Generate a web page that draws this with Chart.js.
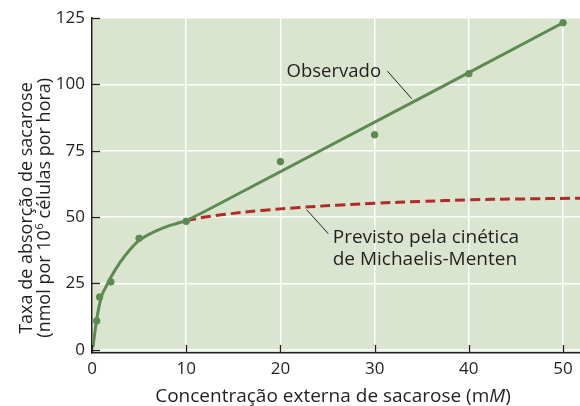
<!DOCTYPE html>
<html>
<head>
<meta charset="utf-8">
<script src="https://cdn.jsdelivr.net/npm/chart.js@4/dist/chart.umd.min.js"></script>
<style>
  body { margin: 0; background: #fff; }
  #wrap { width: 580px; height: 406px; }
</style>
</head>
<body>
<div id="wrap"><canvas id="chart"></canvas></div>
<script>
// measured points (sacarose uptake)
const obsX = [0.5, 0.8, 2, 5, 10, 20, 30, 40, 50];
const obsY = [10.9, 19.9, 25.6, 42, 48.4, 70.9, 81, 104, 123.2];

const curveX = [0.1, 0.5, 1, 1.5, 2, 3, 4, 5, 6, 7, 8, 9, 10, 11, 12, 50];
const curveY = [1, 11.5, 20, 23.8, 27.3, 33, 37.6, 41.2, 43.4, 45.1, 46.5, 47.6, 48.7, 50.4, 52.2, 123.2];

// Michaelis-Menten prediction
const mmX = [10, 12, 14, 18, 22, 26, 30, 35, 40, 45, 51.8];
const mmY = [48.6, 50, 51, 52.5, 53.6, 54.5, 55.2, 55.9, 56.5, 56.8, 57.1];

const xTicks = [0, 10, 20, 30, 40, 50];
const yTicks = [0, 25, 50, 75, 100, 125];

const green = "#5c8b52";
const red = "#b3282a";
const ink = "#231f20";
const fontFam = "'Open Sans', 'Noto Sans', sans-serif";

function pts(xs, ys) {
  return xs.map((x, i) => ({ x: x, y: ys[i] }));
}

const bgPlugin = {
  id: "plotBg",
  beforeDraw: (chart) => {
    const { ctx, chartArea } = chart;
    ctx.save();
    ctx.fillStyle = "#dae5cf";
    ctx.fillRect(chartArea.left, chartArea.top, chartArea.right - chartArea.left, chartArea.bottom - chartArea.top);
    ctx.restore();
  },
};

// inward tick marks
const tickPlugin = {
  id: "innerTicks",
  afterDraw: (chart) => {
    const { ctx, chartArea } = chart;
    ctx.save();
    ctx.strokeStyle = ink;
    ctx.lineWidth = 1.3;
    chart.scales.x.ticks.forEach((t) => {
      const x = Math.round(chart.scales.x.getPixelForValue(t.value)) + 0.5;
      ctx.beginPath();
      ctx.moveTo(x, chartArea.bottom);
      ctx.lineTo(x, chartArea.bottom - 8);
      ctx.stroke();
    });
    chart.scales.y.ticks.forEach((t) => {
      const y = Math.round(chart.scales.y.getPixelForValue(t.value)) + 0.5;
      ctx.beginPath();
      ctx.moveTo(chartArea.left, y);
      ctx.lineTo(chartArea.left + 8, y);
      ctx.stroke();
    });
    ctx.restore();
  },
};

const labelPlugin = {
  id: "labels",
  afterDraw: (chart) => {
    const { ctx } = chart;
    const xs = chart.scales.x;
    const ys = chart.scales.y;
    const px = (v) => xs.getPixelForValue(v);
    const py = (v) => ys.getPixelForValue(v);
    ctx.save();
    ctx.fillStyle = ink;
    ctx.strokeStyle = ink;
    ctx.lineWidth = 1;
    ctx.textBaseline = "alphabetic";

    // Observado
    ctx.font = "18.5px " + fontFam;
    ctx.textAlign = "right";
    ctx.fillText("Observado", px(30.68), py(102.9));
    ctx.beginPath();
    ctx.moveTo(px(31.35), py(105));
    ctx.lineTo(px(33.94), py(94.6));
    ctx.stroke();

    // Previsto
    ctx.font = "19px " + fontFam;
    ctx.textAlign = "left";
    ctx.fillText("Previsto pela cinética", px(25.55), py(40.2));
    ctx.fillText("de Michaelis-Menten", px(25.55), py(31.9));
    ctx.beginPath();
    ctx.moveTo(px(22.79), py(52.75));
    ctx.lineTo(px(25.08), py(43.75));
    ctx.stroke();

    // x axis title with italic M
    const a = "Concentração externa de sacarose (m";
    const b = "M";
    const c = ")";
    const fs = "19px ";
    ctx.font = fs + fontFam;
    const wa = ctx.measureText(a).width;
    const wc = ctx.measureText(c).width;
    ctx.font = "italic " + fs + fontFam;
    const wb = ctx.measureText(b).width;
    const x0 = 333 - (wa + wb + wc) / 2;
    const yT = 402;
    ctx.font = fs + fontFam;
    ctx.fillText(a, x0, yT);
    ctx.font = "italic " + fs + fontFam;
    ctx.fillText(b, x0 + wa, yT);
    ctx.font = fs + fontFam;
    ctx.fillText(c, x0 + wa + wb, yT);

    // y axis title, two lines, superscript 6
    ctx.translate(0, 208);
    ctx.rotate(-Math.PI / 2);
    ctx.textAlign = "left";
    const l1 = "Taxa de absorção de sacarose";
    const l2a = "(nmol por 10";
    const l2b = "6";
    const l2c = " células por hora)";
    const big = "18px " + fontFam;
    const small = "11.5px " + fontFam;
    ctx.font = big;
    const w1 = ctx.measureText(l1).width;
    ctx.fillText(l1, -w1 / 2, 32);
    const w2a = ctx.measureText(l2a).width;
    const w2c = ctx.measureText(l2c).width;
    ctx.font = small;
    const w2b = ctx.measureText(l2b).width;
    const s2 = -(w2a + w2b + w2c) / 2;
    ctx.font = big;
    ctx.fillText(l2a, s2, 49.5);
    ctx.font = small;
    ctx.fillText(l2b, s2 + w2a + 0.5, 43);
    ctx.font = big;
    ctx.fillText(l2c, s2 + w2a + w2b + 0.5, 49.5);
    ctx.restore();
  },
};

new Chart(document.getElementById("chart"), {
  type: "scatter",
  data: {
    datasets: [
      {
        data: pts(mmX, mmY),
        showLine: true,
        borderColor: red,
        borderWidth: 3,
        borderDash: [10, 5],
        pointRadius: 0,
        tension: 0.4,
        order: 3,
      },
      {
        data: pts(curveX, curveY),
        showLine: true,
        borderColor: green,
        borderWidth: 3,
        pointRadius: 0,
        cubicInterpolationMode: "monotone",
        order: 2,
      },
      {
        data: pts(obsX, obsY),
        showLine: false,
        backgroundColor: green,
        borderColor: green,
        pointRadius: 3.3,
        order: 1,
      },
    ],
  },
  options: {
    responsive: true,
    maintainAspectRatio: false,
    animation: false,
    layout: { autoPadding: false, padding: { top: 18, right: 0, left: 0, bottom: 0 } },
    plugins: {
      legend: { display: false },
      tooltip: { enabled: false },
    },
    scales: {
      x: {
        type: "linear",
        min: 0,
        max: 51.8,
        afterBuildTicks: (s) => { s.ticks = xTicks.map((v) => ({ value: v })); },
        afterFit: (s) => { s.height = 53; s.paddingRight = 0; s.paddingLeft = 0; },
        ticks: { color: ink, font: { family: fontFam, size: 17 }, padding: 6, maxRotation: 0 },
        grid: { color: "#ffffff", lineWidth: 1.5, drawTicks: false },
        border: { color: ink, width: 1.5 },
      },
      y: {
        min: -1.2,
        max: 125,
        afterBuildTicks: (s) => { s.ticks = yTicks.map((v) => ({ value: v })); },
        afterFit: (s) => { s.width = 92; s.paddingTop = 0; s.paddingBottom = 0; },
        ticks: { color: ink, font: { family: fontFam, size: 17 }, padding: 7 },
        grid: { color: "#ffffff", lineWidth: 1.5, drawTicks: false },
        border: { color: ink, width: 1.5 },
      },
    },
  },
  plugins: [bgPlugin, tickPlugin, labelPlugin],
});
</script>
</body>
</html>
